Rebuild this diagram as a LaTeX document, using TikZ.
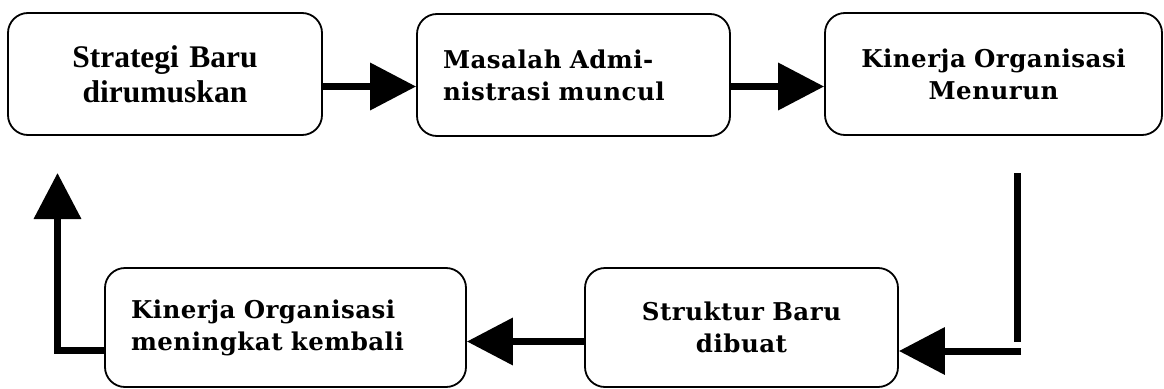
\documentclass[tikz,border=0pt]{standalone}
\usepackage{fontspec}
\setmainfont{Liberation Serif}
\newfontfamily\bkfamily[LetterSpace=2]{DejaVu Serif}
\usetikzlibrary{arrows.meta}
\newcommand{\bkfont}{\bkfamily\bfseries\fontsize{24.5}{32}\selectfont}
\newcommand{\tmfont}{\bfseries\fontsize{31.5}{35}\selectfont}
\tikzset{
  box/.style={draw, line width=1.8pt, rounded corners=20pt, minimum height=122pt, inner xsep=26pt, inner ysep=0pt},
  conn/.style={line width=7pt, -{Triangle[length=46pt,width=46pt]}},
  plainline/.style={line width=7pt},
}
\begin{document}
\begin{tikzpicture}[x=1pt,y=-1pt]
\useasboundingbox (0,0) rectangle (1164,388);
\node[box, text width=262pt, align=center, font=\tmfont] (b1) at (165,74) {Strategi Baru\\dirumuskan};
\node[box, text width=261pt, align=left, font=\bkfont] (b2) at (573.5,75) {Masalah Admi-\\nistrasi muncul};
\node[box, text width=285pt, align=center, font=\bkfont] (b3) at (993.5,74) {Kinerja Organisasi\\Menurun};
\node[box, minimum height=119pt, text width=309pt, align=left, font=\bkfont] (b4) at (285.5,327.5) {Kinerja Organisasi\\meningkat kembali};
\node[box, minimum height=119pt, text width=261pt, align=center, font=\bkfont] (b5) at (741.5,327.5) {Struktur Baru\\dibuat};
\coordinate (r1) at (0,86.5);
\coordinate (v1) at (1017.5,173);
\coordinate (v2) at (1017.5,342);
\coordinate (h1) at (1021,351);
\coordinate (m1) at (0,341.5);
\coordinate (l1) at (57.5,350);
\coordinate (l2) at (57.5,173);
\draw[conn] (b1.east |- r1) -- (b2.west |- r1);
\draw[conn] (b2.east |- r1) -- (b3.west |- r1);
\draw[plainline] (v1) -- (v2);
\draw[conn] (h1) -- (b5.east |- h1);
\draw[conn] (b5.west |- m1) -- (b4.east |- m1);
\draw[conn] (b4.west |- l1) -- (l1) -- (l2);
\end{tikzpicture}
\end{document}
